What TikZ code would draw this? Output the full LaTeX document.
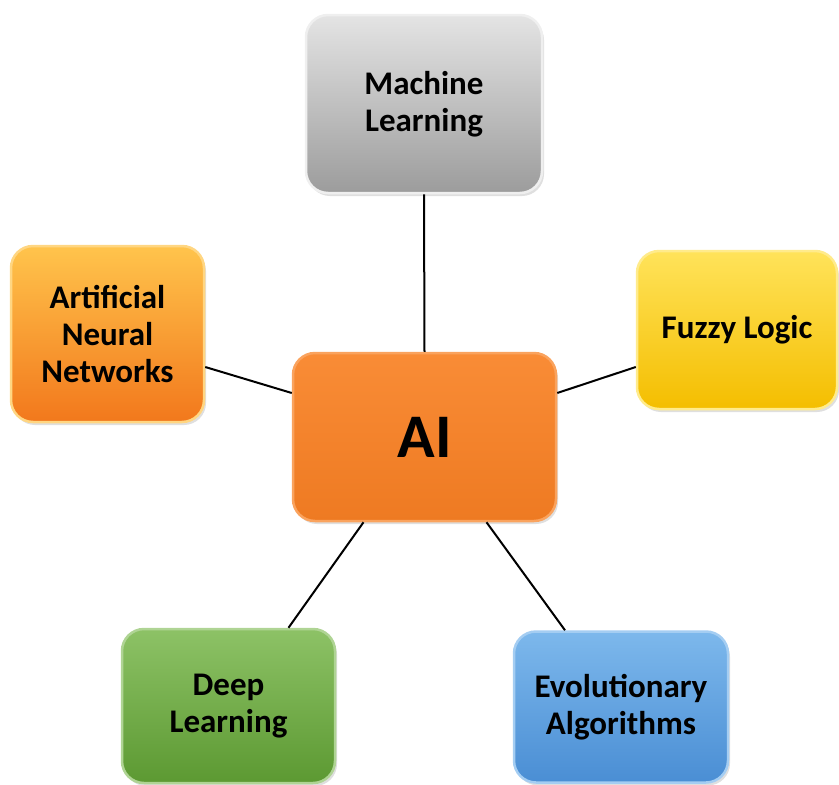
\documentclass[tikz,border=0pt]{standalone}
\usepackage{fontspec}
\setmainfont{Carlito}
\usetikzlibrary{shadows}

\definecolor{mlTop}{HTML}{E4E4E4}
\definecolor{mlBot}{HTML}{9C9C9C}
\definecolor{annTop}{HTML}{FFC44C}
\definecolor{annBot}{HTML}{F2781C}
\definecolor{aiTop}{HTML}{F98C36}
\definecolor{aiBot}{HTML}{EE7A22}
\definecolor{fzTop}{HTML}{FFE35A}
\definecolor{fzBot}{HTML}{F4BE00}
\definecolor{dlTop}{HTML}{8DC266}
\definecolor{dlBot}{HTML}{5C9932}
\definecolor{eaTop}{HTML}{7DB8EC}
\definecolor{eaBot}{HTML}{4A8ED4}

\tikzset{
  topicbox/.style={rounded corners=22pt, align=center, inner sep=0pt,
    font=\bfseries\fontsize{33}{37}\selectfont, line width=2.5pt,
    drop shadow={shadow xshift=2pt, shadow yshift=-3pt, opacity=.25}},
  link/.style={line width=2pt, black}
}

\begin{document}
\begin{tikzpicture}[x=1pt,y=-1pt]
    \useasboundingbox (0,0) rectangle (839,785);
    %
    \node[topicbox, minimum width=236pt, minimum height=178pt,
      top color=mlTop, bottom color=mlBot, draw=mlTop!60!white] (ml) at (424,104) {Machine\\Learning};
    \node[topicbox, minimum width=193pt, minimum height=176pt,
      top color=annTop, bottom color=annBot, draw=annTop!70!white] (ann) at (107.5,334) {Artificial\\Neural\\Networks};
    \node[topicbox, minimum width=263pt, minimum height=168pt,
      top color=aiTop, bottom color=aiBot, draw=aiTop!80!white,
      font=\bfseries\fontsize{62}{66}\selectfont] (ai) at (424.5,437) {AI};
    \node[topicbox, minimum width=200pt, minimum height=158pt,
      top color=fzTop, bottom color=fzBot, draw=fzTop!70!white] (fz) at (737,330) {Fuzzy Logic};
    \node[topicbox, minimum width=213pt, minimum height=154pt,
      top color=dlTop, bottom color=dlBot, draw=dlTop!70!white] (dl) at (228.5,706) {Deep\\Learning};
    \node[topicbox, minimum width=214pt, minimum height=151pt,
      top color=eaTop, bottom color=eaBot, draw=eaTop!70!white] (ea) at (621,707) {Evolutionary\\Algorithms};
    %
    \draw[link] (ml.south) -- (ai.north);
    \draw[link] ([yshift=-33pt]ann.east) -- ([yshift=44pt]ai.west);
    \draw[link] ([yshift=-37pt]fz.west) -- ([yshift=44pt]ai.east);
    \draw[link] ([xshift=60pt]dl.north) -- ([xshift=-61pt]ai.south);
    \draw[link] ([xshift=-56pt]ea.north) -- ([xshift=62pt]ai.south);
\end{tikzpicture}
\end{document}
